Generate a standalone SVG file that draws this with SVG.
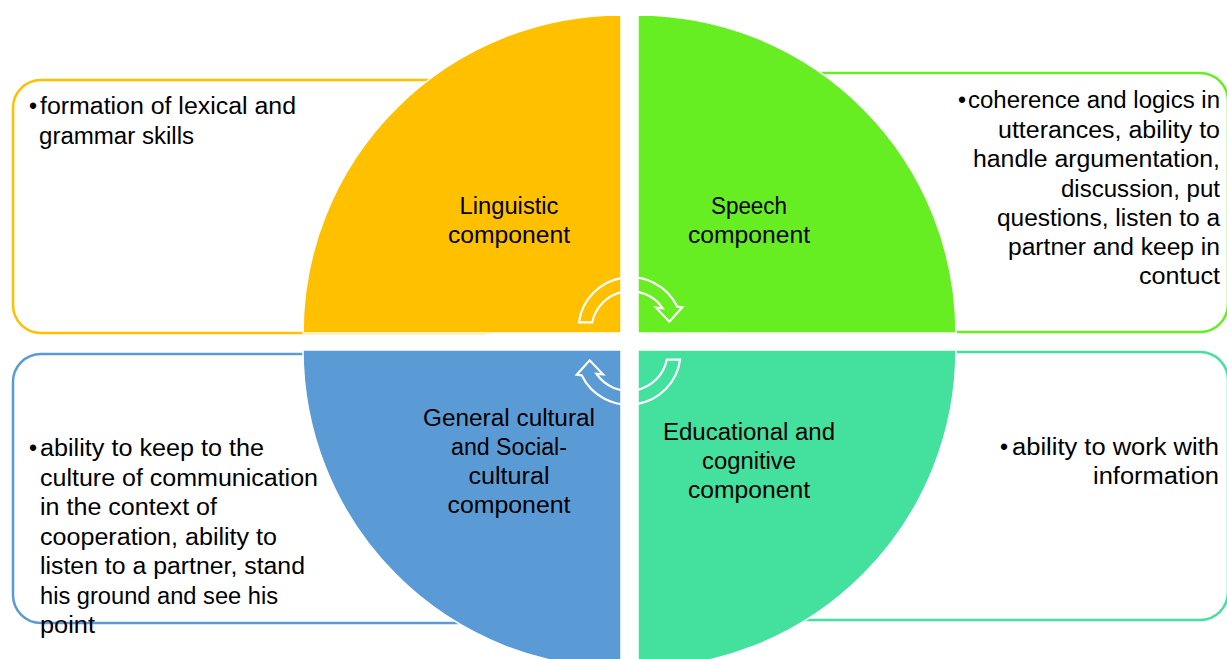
<svg xmlns="http://www.w3.org/2000/svg" width="1227" height="659" viewBox="0 0 1227 659">
<style>
text{font-family:"Liberation Sans",Arial,sans-serif;font-size:23px;fill:#000}
.lbl{text-anchor:middle}
.r{text-anchor:end}
.box{fill:#fff;stroke-width:2.5}
.q{stroke:#fff;stroke-width:1.5}
.arr{fill:none;stroke:#fff;stroke-width:2.2;stroke-linejoin:miter}
</style>
<rect width="1227" height="659" fill="#fff"/>
<g id="linguistic">
<rect class="box" x="13" y="80" width="500" height="253" rx="28" stroke="#FFC000"/>
<path class="q" d="M621,333 L303,333 A318,318 0 0 1 621,15 Z" fill="#FFC000"/>
<text x="29" y="114">•</text>
<text x="40" y="114" textLength="256" lengthAdjust="spacingAndGlyphs">formation of lexical and</text>
<text x="39" y="144" textLength="155" lengthAdjust="spacingAndGlyphs">grammar skills</text>
<text class="lbl" x="509" y="214" textLength="99" lengthAdjust="spacingAndGlyphs">Linguistic</text>
<text class="lbl" x="509" y="243" textLength="122" lengthAdjust="spacingAndGlyphs">component</text>
</g>
<g id="speech">
<rect class="box" x="700" y="73" width="528" height="259" rx="28" stroke="#66EE22"/>
<path class="q" d="M638,333 L638,15 A318,318 0 0 1 956,333 Z" fill="#66EE22"/>
<text x="958" y="108">•</text>
<text class="r" x="1220" y="108" textLength="252" lengthAdjust="spacingAndGlyphs">coherence and logics in</text>
<text class="r" x="1220" y="138" textLength="222" lengthAdjust="spacingAndGlyphs">utterances, ability to</text>
<text class="r" x="1220" y="167" textLength="247" lengthAdjust="spacingAndGlyphs">handle argumentation,</text>
<text class="r" x="1220" y="197" textLength="159" lengthAdjust="spacingAndGlyphs">discussion, put</text>
<text class="r" x="1220" y="226" textLength="223" lengthAdjust="spacingAndGlyphs">questions, listen to a</text>
<text class="r" x="1220" y="255" textLength="212" lengthAdjust="spacingAndGlyphs">partner and keep in</text>
<text class="r" x="1220" y="284" textLength="81" lengthAdjust="spacingAndGlyphs">contuct</text>
<text class="lbl" x="749" y="214" textLength="76" lengthAdjust="spacingAndGlyphs">Speech</text>
<text class="lbl" x="749" y="243" textLength="122" lengthAdjust="spacingAndGlyphs">component</text>
</g>
<g id="sociocultural">
<rect class="box" x="13" y="354" width="500" height="269" rx="28" stroke="#5B9BD5"/>
<path class="q" d="M621,350 L621,668 A318,318 0 0 1 303,350 Z" fill="#5B9BD5"/>
<text x="29" y="456">•</text>
<text x="40" y="456" textLength="224" lengthAdjust="spacingAndGlyphs">ability to keep to the</text>
<text x="40" y="486" textLength="278" lengthAdjust="spacingAndGlyphs">culture of communication</text>
<text x="40" y="515" textLength="177" lengthAdjust="spacingAndGlyphs">in the context of</text>
<text x="40" y="545" textLength="237" lengthAdjust="spacingAndGlyphs">cooperation, ability to</text>
<text x="40" y="574" textLength="265" lengthAdjust="spacingAndGlyphs">listen to a partner, stand</text>
<text x="40" y="604" textLength="238" lengthAdjust="spacingAndGlyphs">his ground and see his</text>
<text x="40" y="633" textLength="55" lengthAdjust="spacingAndGlyphs">point</text>
<text class="lbl" x="509" y="426" textLength="172" lengthAdjust="spacingAndGlyphs">General cultural</text>
<text class="lbl" x="509" y="455" textLength="116" lengthAdjust="spacingAndGlyphs">and Social-</text>
<text class="lbl" x="509" y="484" textLength="81" lengthAdjust="spacingAndGlyphs">cultural</text>
<text class="lbl" x="509" y="513" textLength="123" lengthAdjust="spacingAndGlyphs">component</text>
</g>
<g id="educational">
<rect class="box" x="700" y="352" width="528" height="268" rx="28" stroke="#44E09D"/>
<path class="q" d="M638,350 L956,350 A318,318 0 0 1 638,668 Z" fill="#44E09D"/>
<text x="1000" y="455">•</text>
<text class="r" x="1219" y="455" textLength="207" lengthAdjust="spacingAndGlyphs">ability to work with</text>
<text class="r" x="1219" y="484" textLength="126" lengthAdjust="spacingAndGlyphs">information</text>
<text class="lbl" x="749" y="440" textLength="172" lengthAdjust="spacingAndGlyphs">Educational and</text>
<text class="lbl" x="749" y="469" textLength="94" lengthAdjust="spacingAndGlyphs">cognitive</text>
<text class="lbl" x="749" y="498" textLength="122" lengthAdjust="spacingAndGlyphs">component</text>
</g>
<g id="connectors">
<path id="arrowTop" class="arr" d="M578.9,322.3 A52,52 0 0 1 677.3,306.7 L682.3,307.3 L669.3,321.7 L656,307.7 L662.7,308.3 A39,39 0 0 0 592.2,322.3 Z"/>
<path id="arrowBottom" class="arr" d="M578.9,322.3 A52,52 0 0 1 677.3,306.7 L682.3,307.3 L669.3,321.7 L656,307.7 L662.7,308.3 A39,39 0 0 0 592.2,322.3 Z" transform="rotate(180 629.5 341)"/>
</g>
</svg>
